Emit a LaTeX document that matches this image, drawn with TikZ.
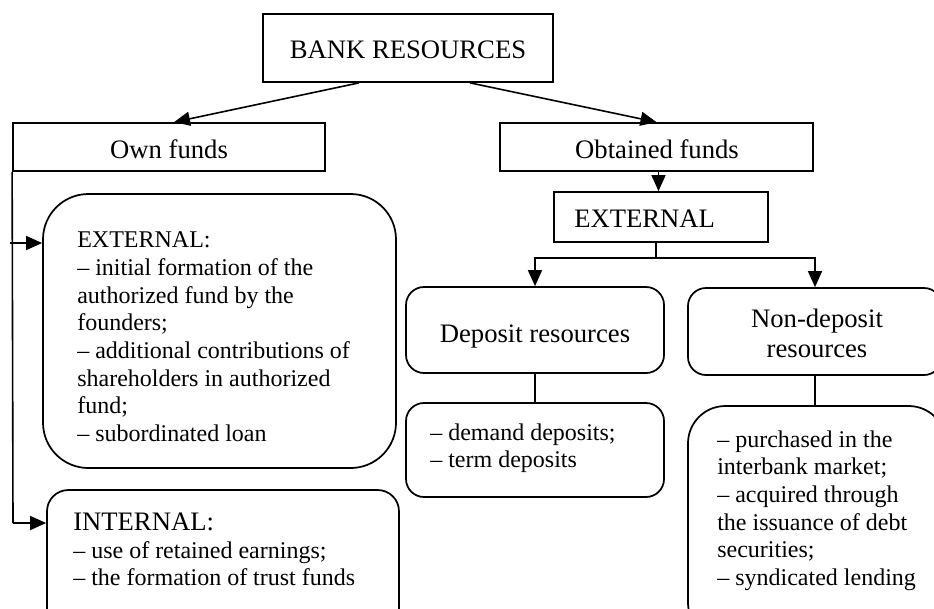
\documentclass[tikz,border=0pt]{standalone}
\usepackage{fontspec}
\setmainfont{Liberation Serif}
\usetikzlibrary{fit,arrows.meta}
\begin{document}
\begin{tikzpicture}[x=0.75pt,y=-0.75pt,
  box/.style={draw,line width=1.3pt,inner sep=0pt},
  rbox/.style={box,rounded corners=#1},
  head/.style={font=\fontsize{20pt}{23pt}\selectfont,inner sep=0pt},
  body/.style={font=\fontsize{18pt}{20.8pt}\selectfont,inner sep=0pt,anchor=base west},
  conn/.style={line width=1.2pt},
  arr/.style={conn,-{Triangle[length=12pt,width=10.5pt]}}]
\useasboundingbox (0,0) rectangle (934,608);
\clip (0,0) rectangle (934,608);
% boxes
\node[box,fit={(263,14) (553,82)}] (bank) {};
\node[box,fit={(13,123) (325,171)}] (own) {};
\node[box,fit={(500,123) (813,171)}] (obt) {};
\node[box,fit={(554,192) (768,242)}] (extR) {};
\node[rbox=13.5pt,fit={(406,287) (664,373)}] (dep) {};
\node[rbox=13.5pt,fit={(688,288) (942,375)}] (ndep) {};
\node[rbox=13.5pt,fit={(406,403) (664,497)}] (depl) {};
\node[rbox=28pt,fit={(688,406) (946,640)}] (ndepl) {};
\node[rbox=34pt,fit={(43,194) (396,468)}] (extL) {};
\node[rbox=16pt,fit={(47,490) (399,640)}] (intL) {};
% headings
\node[head,anchor=base] (tbank) at (408,58) {BANK RESOURCES};
\node[head,anchor=base] (town) at (169,158) {Own funds};
\node[head,anchor=base] (tobt) at (657,158) {Obtained funds};
\node[head,anchor=base west] (textR) at (574,227) {EXTERNAL};
\node[head,anchor=base] (tdep) at (535,342) {Deposit resources};
\node[head,anchor=base] (tndep1) at (817,327) {Non-deposit};
\node[head,anchor=base] (tndep2) at (817,357) {resources};
% left external list
\foreach \t [count=\i] in {{EXTERNAL:},{– initial formation of the},{authorized fund by the},{founders;},{– additional contributions of},{shareholders in authorized},{fund;},{– subordinated loan}}
  \node[body] (extl\i) at (77,{247.7+27.7*(\i-1)}) {\t};
% internal
\node[head,anchor=base west] (int1) at (73,530) {INTERNAL:};
\node[body] (int2) at (73,558) {– use of retained earnings;};
\node[body] (int3) at (73,585) {– the formation of trust funds};
% deposit list
\node[body] (dl1) at (430,440) {– demand deposits;};
\node[body] (dl2) at (430,467) {– term deposits};
% non-deposit list
\foreach \t [count=\i] in {{– purchased in the},{interbank market;},{– acquired through},{the issuance of debt},{securities;},{– syndicated lending}}
  \node[body] (nd\i) at (717,{447+27.7*(\i-1)}) {\t};
% connectors
\draw[arr] ([xshift=-36.75pt]bank.south) -- ([xshift=3.75pt]own.north);
\draw[arr] ([xshift=46.5pt]bank.south) -- (obt.north);
\draw[arr] ([xshift=1.5pt]obt.south) -- ([xshift=1.5pt]obt.south |- extR.north);
\coordinate (split) at (656,258);
\draw[conn] ([xshift=-3.75pt]extR.south) -- (split);
\draw[arr] (split) -| (dep.north);
\draw[arr] (split) -| (ndep.north);
\draw[conn] (dep.south) -- (depl.north);
\draw[conn] (ndep.south) -- (ndep.south |- ndepl.north);
\coordinate (j1) at (13,243);
\coordinate (j2) at (13,523);
\draw[conn] (own.south west) -- (j2);
\draw[arr] ([xshift=-2pt]j1) -- (j1 -| extL.west);
\draw[arr] (j2) -- (j2 -| intL.west);
\end{tikzpicture}
\end{document}
